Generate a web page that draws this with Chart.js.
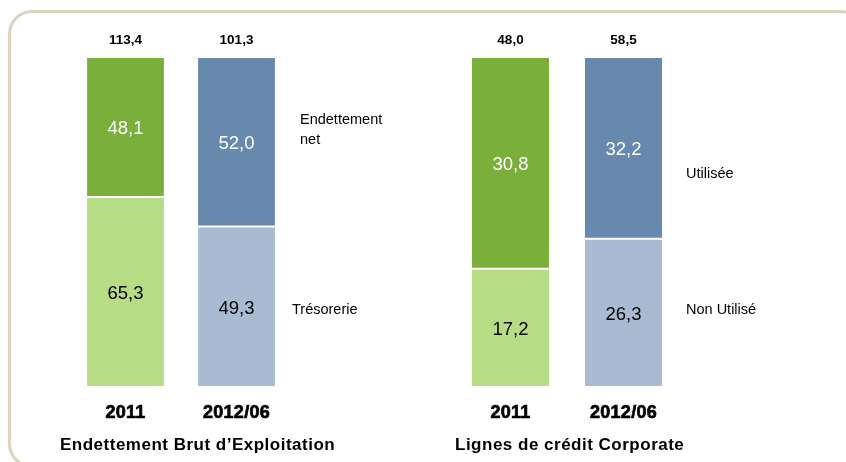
<!DOCTYPE html>
<html>
<head>
<meta charset="utf-8">
<script src="https://cdn.jsdelivr.net/npm/chart.js@4"></script>
<style>
  html, body { margin: 0; padding: 0; background: #fff; overflow: hidden; }
  #wrap { position: relative; width: 846px; height: 462px; overflow: hidden; }
  #frame {
    position: absolute; left: 8px; top: 10px; width: 850px; height: 452px;
    border: 3px solid #DED1BE; border-radius: 24px;
  }
  canvas { position: absolute; top: 0; }
  #c1 { left: 0; }
  #c2 { left: 423px; }
</style>
</head>
<body>
<div id="wrap">
  <div id="frame"></div>
  <canvas id="c1" width="423" height="462"></canvas>
  <canvas id="c2" width="423" height="462"></canvas>
</div>
<script>
// Data
const years = ['2011', '2012/06'];
const endettementNet = [48.1, 52.0];
const tresorerie = [65.3, 49.3];
const creditUtilise = [30.8, 32.2];
const creditNonUtilise = [17.2, 26.3];

const FONT = '"Liberation Sans", Arial, sans-serif';

function fmt(v) {
  return v.toFixed(1).replace('.', ',');
}

// 100% stacked bars: each segment as a share of its bar total
function shares(part, other) {
  return part.map((v, i) => v / (v + other[i]) * 100);
}

/**
 * Plugin drawing segment values, totals, year labels, title and side labels
 */
function labelsPlugin(cfg) {
  return {
    id: 'labels_' + cfg.id,
    afterDatasetsDraw(chart) {
      const ctx = chart.ctx;
      const area = chart.chartArea;
      const yScale = chart.scales.y;
      ctx.save();
      ctx.textAlign = 'center';
      ctx.textBaseline = 'middle';

      // values inside segments
      chart.data.datasets.forEach((ds, di) => {
        const meta = chart.getDatasetMeta(di);
        meta.data.forEach((bar, i) => {
          const raw = cfg.raw[di][i];
          ctx.font = '18.5px ' + FONT;
          ctx.fillStyle = di === 0 ? '#000000' : '#FFFFFF';
          ctx.fillText(fmt(raw), bar.x, (bar.y + bar.base) / 2 + 2);
        });
      });

      // totals above, years below
      const meta0 = chart.getDatasetMeta(0);
      meta0.data.forEach((bar, i) => {
        const total = cfg.raw[0][i] + cfg.raw[1][i];
        ctx.letterSpacing = '0px';
        ctx.font = 'bold 13.5px ' + FONT;
        ctx.fillStyle = '#000000';
        ctx.fillText(fmt(total), bar.x, area.top - 17);
        // heavy year labels
        ctx.letterSpacing = '0.3px';
        ctx.font = 'bold 18px ' + FONT;
        ctx.strokeStyle = '#000000';
        ctx.lineWidth = 0.7;
        ctx.fillText(years[i], bar.x, area.bottom + 26);
        ctx.strokeText(years[i], bar.x, area.bottom + 26);
      });

      // panel title
      ctx.textAlign = 'left';
      ctx.letterSpacing = '0.5px';
      ctx.font = 'bold 17px ' + FONT;
      ctx.fillText(cfg.title, cfg.titleX, area.bottom + 58);

      // side labels
      ctx.letterSpacing = '0px';
      ctx.font = '14.5px ' + FONT;
      cfg.side.forEach(s => {
        s.lines.forEach((line, k) => {
          ctx.fillText(line, area.right + s.dx, yScale.getPixelForValue(s.at) + k * 20);
        });
      });
      ctx.restore();
    }
  };
}

function makeChart(id, lower, upper, colors, padding, barPct, plugin) {
  return new Chart(document.getElementById(id), {
    type: 'bar',
    data: {
      labels: years,
      datasets: [{
        data: shares(lower, upper),
        backgroundColor: colors[0],
        borderColor: 'rgba(255,255,255,0.7)',
        borderWidth: 1,
        borderSkipped: false,
        barPercentage: barPct,
        categoryPercentage: 1
      }, {
        data: shares(upper, lower),
        backgroundColor: colors[1],
        borderColor: 'rgba(255,255,255,0.7)',
        borderWidth: 1,
        borderSkipped: false,
        barPercentage: barPct,
        categoryPercentage: 1
      }]
    },
    options: {
      responsive: false,
      animation: false,
      layout: { padding: padding },
      plugins: {
        legend: { display: false },
        tooltip: { enabled: false }
      },
      scales: {
        x: { stacked: true, display: false },
        y: { stacked: true, display: false, min: 0, max: 100 }
      }
    },
    plugins: [plugin]
  });
}

// Left panel: Endettement Brut d'Exploitation
makeChart('c1', tresorerie, endettementNet,
  [['#B7DC86', '#A8BBD3'], ['#7BAF3B', '#6789AD']],
  { left: 70, right: 131, top: 57, bottom: 75 }, 0.71,
  labelsPlugin({
    id: 'c1',
    raw: [tresorerie, endettementNet],
    title: 'Endettement Brut d\u2019Exploitation',
    titleX: 60,
    side: [
      { lines: ['Endettement', 'net'], at: 81, dx: 8 },
      { lines: ['Trésorerie'], at: 23.4, dx: 0 }
    ]
  })
);

// Right panel: Lignes de crédit Corporate
makeChart('c2', creditNonUtilise, creditUtilise,
  [['#B7DC86', '#A8BBD3'], ['#7BAF3B', '#6789AD']],
  { left: 31, right: 166, top: 57, bottom: 75 }, 0.70,
  labelsPlugin({
    id: 'c2',
    raw: [creditNonUtilise, creditUtilise],
    title: 'Lignes de crédit Corporate',
    titleX: 32,
    side: [
      { lines: ['Utilisée'], at: 64.4, dx: 6 },
      { lines: ['Non Utilisé'], at: 23.4, dx: 6 }
    ]
  })
);
</script>
</body>
</html>
